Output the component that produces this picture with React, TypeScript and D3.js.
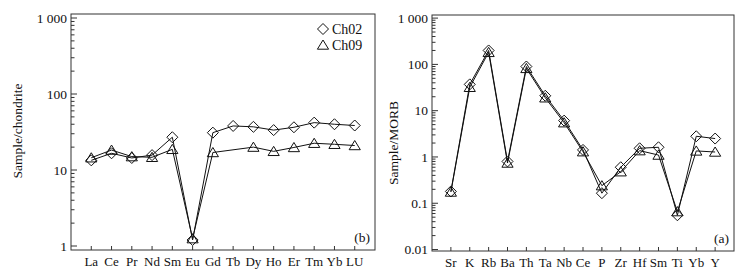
import React from 'react';
import * as d3 from 'd3';

// REE (chondrite-normalised), panel (b)
const reeElements = ['La', 'Ce', 'Pr', 'Nd', 'Sm', 'Eu', 'Gd', 'Tb', 'Dy', 'Ho', 'Er', 'Tm', 'Yb', 'LU'];
const reeCh02 = [13.4, 16.6, 14.4, 15.7, 27, 1.2, 31, 38, 37, 33.5, 36.5, 42, 40, 38.5];
const reeCh09 = [14.5, 18.3, 15, 14.7, 18.7, 1.25, 17, null, 20, 17.6, 19.8, 22.5, 21.8, 21];

// Trace elements (MORB-normalised), panel (a)
const traceElements = ['Sr', 'K', 'Rb', 'Ba', 'Th', 'Ta', 'Nb', 'Ce', 'P', 'Zr', 'Hf', 'Sm', 'Ti', 'Yb', 'Y'];
const traceCh02 = [0.18, 37, 200, 0.8, 90, 21, 6.1, 1.42, 0.165, 0.6, 1.54, 1.62, 0.055, 2.8, 2.5];
const traceCh09 = [0.175, 32, 182, 0.74, 82, 19, 5.5, 1.3, 0.24, 0.48, 1.37, 1.1, 0.066, 1.35, 1.28];

const series = [
  { name: 'Ch02', marker: 'diamond' },
  { name: 'Ch09', marker: 'triangle' },
];

const FONT = '"Liberation Serif", "Times New Roman", serif';

const diamondPath = 'M0,-5.5L5.5,0L0,5.5L-5.5,0Z';
const trianglePath = 'M0,-5L5.6,4.2L-5.6,4.2Z';

function fmt(v: number) {
  if (v >= 1000) return d3.format(',')(v).replace(/,/g, ' ');
  return String(+v.toPrecision(3));
}

interface PanelProps {
  left: number;
  right: number;
  top: number;
  bottom: number;
  categories: string[];
  data: (number | null)[][];
  yDomain: [number, number];
  minDecade: number;
  maxDecade: number;
  yTitle: string;
  titleX: number;
  titleY: number;
  tag: string;
  legend?: boolean;
}

function Panel(p: PanelProps) {
  const x = d3.scalePoint<string>().domain(p.categories).range([p.left, p.right]).padding(1);
  const y = d3.scaleLog().domain(p.yDomain).range([p.bottom, p.top]);

  const ticks: { v: number; major: boolean }[] = [];
  for (let d = p.minDecade; d <= p.maxDecade; d++) {
    for (let k = 1; k <= 9; k++) {
      const v = k * Math.pow(10, d);
      if (v >= p.yDomain[0] && v <= p.yDomain[1]) ticks.push({ v, major: k === 1 });
    }
  }

  const line = d3.line<{ c: string; v: number }>()
    .x(d => x(d.c) as number)
    .y(d => y(d.v));

  return (
    <g>
      <rect x={p.left} y={p.top} width={p.right - p.left} height={p.bottom - p.top}
        fill="none" stroke="#333" strokeWidth={1} />
      {ticks.map((t, i) => (
        <line key={'yt' + i} x1={p.left} x2={p.left + (t.major ? 6 : 3.5)} y1={y(t.v)} y2={y(t.v)}
          stroke="#333" strokeWidth={1} />
      ))}
      {ticks.filter(t => t.major).map((t, i) => (
        <text key={'yl' + i} x={p.left - 4} y={y(t.v)} dy="0.35em" textAnchor="end"
          fontSize={13.5} fontFamily={FONT} fill="#111">{fmt(t.v)}</text>
      ))}
      {p.categories.map(c => (
        <g key={c}>
          <line x1={x(c)} x2={x(c)} y1={p.bottom} y2={p.bottom - 4} stroke="#333" strokeWidth={1} />
          <text x={x(c)} y={p.bottom + 16} textAnchor="middle" fontSize={13} fontFamily={FONT} fill="#111">{c}</text>
        </g>
      ))}
      <text transform={`translate(${p.titleX},${p.titleY}) rotate(-90)`} textAnchor="middle"
        fontSize={13.5} fontFamily={FONT} fill="#111">{p.yTitle}</text>
      <text x={p.right - 5} y={p.bottom - 8} textAnchor="end" fontSize={13.5} fontFamily={FONT} fill="#111">{p.tag}</text>
      {p.data.map((vals, si) => {
        const pts = p.categories
          .map((c, i) => ({ c, v: vals[i] as number }))
          .filter(d => d.v != null);
        const path = series[si].marker === 'diamond' ? diamondPath : trianglePath;
        return (
          <g key={'s' + si}>
            <path d={line(pts) || ''} fill="none" stroke="#111" strokeWidth={1} />
            {pts.map(d => (
              <path key={d.c} d={path} transform={`translate(${x(d.c)},${y(d.v)})`}
                fill="none" stroke="#111" strokeWidth={1} />
            ))}
          </g>
        );
      })}
      {p.legend && series.map((s, i) => (
        <g key={s.name} transform={`translate(${p.right - 52},${p.top + 15 + i * 16})`}>
          <path d={s.marker === 'diamond' ? diamondPath : trianglePath} fill="none" stroke="#111" strokeWidth={1} />
          <text x={9} y={0} dy="0.35em" fontSize={14} fontFamily={FONT} fill="#111">{s.name}</text>
        </g>
      ))}
    </g>
  );
}

export default function App() {
  return (
    <div style={{ position: 'absolute', left: 0, top: 0 }}>
      <svg width={753} height={280} style={{ display: 'block', background: '#fff' }}>
        <Panel left={71} right={375} top={14} bottom={250}
          categories={reeElements} data={[reeCh02, reeCh09]}
          yDomain={[0.886, 1129]} minDecade={0} maxDecade={3}
          yTitle="Sample/chondrite" titleX={22} titleY={131} tag="(b)" legend />
        <Panel left={432} right={734} top={15} bottom={251}
          categories={traceElements} data={[traceCh02, traceCh09]}
          yDomain={[0.0093, 1167]} minDecade={-2} maxDecade={3}
          yTitle="Sample/MORB" titleX={398} titleY={143} tag="(a)" />
      </svg>
    </div>
  );
}
